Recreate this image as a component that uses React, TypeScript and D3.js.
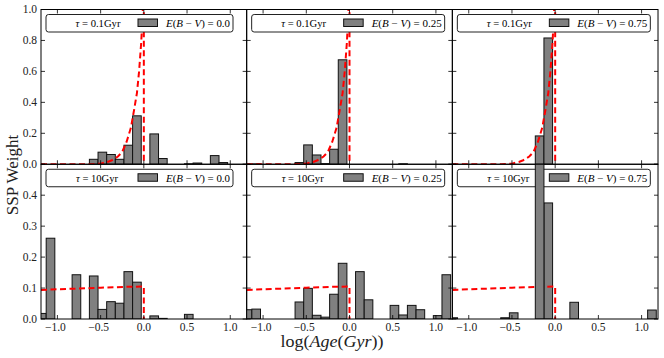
import React from "react";
import * as d3 from "d3";

// ---------- data ----------
const binCenters = [-1.18, -1.08, -0.98, -0.88, -0.78, -0.68, -0.58, -0.48, -0.38, -0.28, -0.18, -0.08,
  0.02, 0.12, 0.22, 0.32, 0.42, 0.52, 0.62, 0.72, 0.82, 0.92, 1.02, 1.12];
const binWidth = 0.1;

const wTau01_E000 = [0, 0, 0, 0, 0, 0, 0.032, 0.078, 0.063, 0.032, 0.123, 0.313, 0, 0.196, 0.037, 0, 0, 0.003, 0.008, 0, 0.056, 0.011, 0, 0];
const wTau01_E025 = [0, 0.002, 0, 0, 0, 0, 0.011, 0.125, 0.06, 0.004, 0.097, 0.675, 0, 0, 0, 0, 0, 0, 0.003, 0, 0, 0, 0, 0];
const wTau01_E075 = [0, 0, 0, 0, 0, 0, 0, 0, 0, 0, 0.183, 0.816, 0, 0, 0, 0, 0, 0, 0, 0, 0, 0, 0, 0];
const wTau10_E000 = [0.018, 0.261, 0, 0, 0.143, 0, 0.139, 0.031, 0.056, 0.051, 0.153, 0.119, 0, 0.01, 0.002, 0, 0, 0.015, 0, 0, 0, 0, 0, 0];
const wTau10_E025 = [0.03, 0.032, 0, 0, 0, 0, 0.055, 0.099, 0.012, 0.006, 0.08, 0.18, 0, 0.153, 0.062, 0, 0, 0.044, 0.013, 0.044, 0.03, 0, 0.011, 0.143];
const wTau10_E075 = [0.004, 0, 0, 0, 0, 0, 0.004, 0.02, 0, 0, 0.51, 0.375, 0, 0, 0.054, 0, 0, 0, 0, 0, 0, 0, 0, 0.029];

// true SFH curves (dashed red)
const sfhTau01X = [-1.19, -0.62, -0.5, -0.42, -0.37, -0.3, -0.25, -0.2, -0.15, -0.11, -0.08, -0.055, -0.03, -0.012, -0.004, 0, 0];
const sfhTau01Y = [0, 0, 0.004, 0.015, 0.026, 0.05, 0.08, 0.144, 0.235, 0.36, 0.46, 0.6, 0.79, 1.0, 1.2, 1.2, 0];
const sfhTau10X = [-1.19, -0.8, -0.5, -0.2, 0, 0];
const sfhTau10Y = [0.094, 0.098, 0.101, 0.104, 0.105, 0];

const ebvLabels = ["0.0", "0.25", "0.75"];
const tauLabels = ["0.1", "10"];
const xTicks = [-1.0, -0.5, 0.0, 0.5, 1.0];
const yTicksTop = [0, 0.2, 0.4, 0.6, 0.8, 1.0];
const yTicksBottom = [0, 0.1, 0.2, 0.3, 0.4, 0.5];

const rows = [
  { tau: tauLabels[0], ymax: 1.0, yTicks: yTicksTop, labelTicks: yTicksTop, weights: [wTau01_E000, wTau01_E025, wTau01_E075], cx: sfhTau01X, cy: sfhTau01Y },
  { tau: tauLabels[1], ymax: 0.5, yTicks: yTicksBottom, labelTicks: yTicksBottom.slice(0, 5), weights: [wTau10_E000, wTau10_E025, wTau10_E075], cx: sfhTau10X, cy: sfhTau10Y },
];

// ---------- layout ----------
const W = 664, H = 358;
const left0 = 41, panelW = 205.67;
const rowTop = [9.5, 164.25];
const rowH = 154.75;
const xDomain = [-1.19, 1.19];
const serif = "'Liberation Serif', 'DejaVu Serif', serif";
const fmt = (v: number) => (v < 0 ? "\u2212" : "") + Math.abs(v).toFixed(1);

function Panel({ r, c }: { r: number; c: number }) {
  const row = rows[r];
  const x0 = left0 + c * panelW, x1 = x0 + panelW;
  const y0 = rowTop[r], y1 = y0 + rowH;
  const x = d3.scaleLinear().domain(xDomain).range([x0, x1]);
  const y = d3.scaleLinear().domain([0, row.ymax]).range([y1, y0]);
  const weights = row.weights[c];
  const clipId = `clip-${r}-${c}`;
  const pts = row.cx.map((v, i) => [v, row.cy[i]] as [number, number]);
  const line = d3.line<[number, number]>().x((d) => x(d[0])).y((d) => y(d[1]));
  const bars = binCenters.map((cen, i) => ({ cen, v: weights[i] })).filter((d) => d.v > 0);
  const bar = (d: { cen: number; v: number }, i: number) => (
    <rect key={i} x={x(d.cen - binWidth / 2)} width={x(d.cen + binWidth / 2) - x(d.cen - binWidth / 2)}
      y={y(d.v)} height={y(0) - y(d.v)} fill="#808080" stroke="#111" strokeWidth={1} />
  );
  // legend
  const lx = x0 + 5, ly = y0 + 5;
  const eW = ebvLabels[c] === "0.0" ? 64 : 70;
  const lw = 120 + eW + 3;
  const lh = 17.5;
  const tauW = row.tau === "0.1" ? 45 : 42;
  const tauStart = row.tau === "0.1" ? 29.5 : 30;
  return (
    <g>
      <defs>
        <clipPath id={clipId}><rect x={x0} y={y0} width={panelW} height={rowH} /></clipPath>
      </defs>
      <g clipPath={`url(#${clipId})`}>
        {bars.filter((d) => d.v <= row.ymax).map(bar)}
        <path d={line(pts) || ""} fill="none" stroke="#ff0000" strokeWidth={2} strokeDasharray="6,3.5" />
      </g>
      <g>
        <rect x={lx} y={ly} width={lw} height={lh} rx={2.5} fill="#fff" stroke="#222" strokeWidth={1} />
        <text x={lx + tauStart} y={ly + 12.3} fontFamily={serif} fontSize={10} textLength={tauW} lengthAdjust="spacingAndGlyphs">
          <tspan fontStyle="italic">τ</tspan> = {row.tau}Gyr
        </text>
        <rect x={lx + 92} y={ly + 4.5} width={19.5} height={7.5} fill="#808080" stroke="#111" strokeWidth={1} />
        <text x={lx + 120} y={ly + 12.3} fontFamily={serif} fontSize={10} textLength={eW} lengthAdjust="spacingAndGlyphs">
          <tspan fontStyle="italic">E</tspan>(<tspan fontStyle="italic">B</tspan> − <tspan fontStyle="italic">V</tspan>) = {ebvLabels[c]}
        </text>
      </g>
      <g clipPath={`url(#${clipId})`}>
        {bars.filter((d) => d.v > row.ymax).map(bar)}
      </g>
      {/* frame */}
      <rect x={x0} y={y0} width={panelW} height={rowH} fill="none" stroke="#000" strokeWidth={1} />
      {/* ticks */}
      {xTicks.map((t) => (
        <g key={"xt" + t}>
          <line x1={x(t)} x2={x(t)} y1={y1} y2={y1 - 4} stroke="#000" strokeWidth={0.8} />
          <line x1={x(t)} x2={x(t)} y1={y0} y2={y0 + 4} stroke="#000" strokeWidth={0.8} />
        </g>
      ))}
      {row.yTicks.map((t) => (
        <g key={"yt" + t}>
          <line x1={x0} x2={x0 + 4} y1={y(t)} y2={y(t)} stroke="#000" strokeWidth={0.8} />
          <line x1={x1} x2={x1 - 4} y1={y(t)} y2={y(t)} stroke="#000" strokeWidth={0.8} />
        </g>
      ))}
      {c === 0 && row.labelTicks.map((t) => (
        <text key={"yl" + t} x={x0 - 4} y={y(t) + 3.8} textAnchor="end" fontFamily={serif} fontSize={11.5} fill="#222">
          {t.toFixed(1)}
        </text>
      ))}
      {r === 1 && xTicks.map((t) => (
        <text key={"xl" + t} x={x(t) - (t < 0 ? 2 : 0)} y={330.5} textAnchor="middle" fontFamily={serif} fontSize={11.5} fill="#222">
          {fmt(t)}
        </text>
      ))}
    </g>
  );
}

export default function App() {
  return (
    <svg width={W} height={H} style={{ position: "absolute", left: 0, top: 0, background: "#fff" }}>
      <rect width={W} height={H} fill="#fff" />
      {[0, 1].map((r) => [0, 1, 2].map((c) => <Panel key={`${r}-${c}`} r={r} c={c} />))}
      <text transform="translate(18,175) rotate(-90)" textAnchor="middle" fontFamily={serif} fontSize={17} fill="#222">
        SSP Weight
      </text>
      <text x={332} y={347} textAnchor="middle" fontFamily={serif} fontSize={17} fill="#222" textLength={103} lengthAdjust="spacingAndGlyphs">
        log(<tspan fontStyle="italic">Age</tspan>(<tspan fontStyle="italic">Gyr</tspan>))
      </text>
    </svg>
  );
}
